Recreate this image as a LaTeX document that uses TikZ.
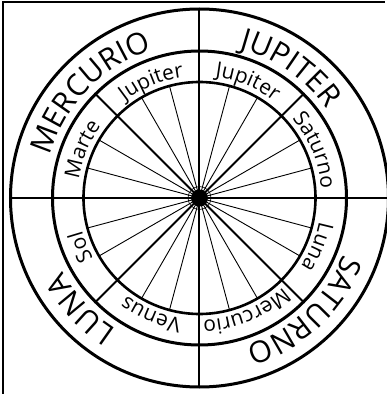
\documentclass[tikz,border=0pt]{standalone}
\usepackage{fontspec}
\setmainfont{Open Sans}
\usetikzlibrary{decorations.text}
\tikzset{
  ringline/.style={line width=3pt},
  axisline/.style={line width=2pt},
  spokeline/.style={line width=0.9pt},
}
\newcommand{\ringlabel}[4]{%
  \path[decorate, decoration={text along path, text align=center,
    text={|\fontsize{#3}{#3}\selectfont|#4}}]
    ({#1+70}:#2) arc[start angle={#1+70}, end angle={#1-70}, radius=#2];}

\begin{document}
\begin{tikzpicture}[x=1pt, y=1pt]
  \useasboundingbox (-199.5,-196) rectangle (187.5,198);
  \draw[line width=1.8pt] (185,196) -- (-196.5,196) -- (-196.5,-197);
  \coordinate (hub) at (0,0);

  \foreach \a in {15,30,60,75,105,120,150,165,195,210,240,255,285,300,330,345}
    \draw[spokeline] (hub) -- (\a:116);
  \foreach \a in {45,135,225,315}
    \draw[axisline] (hub) -- (\a:147);
  \draw[axisline] (-189,0) -- (189,0);
  \draw[axisline] (0,-189) -- (0,189);

  \draw[ringline] (hub) circle[radius=189];
  \draw[ringline] (hub) circle[radius=147];
  \draw[line width=2.6pt] (hub) circle[radius=116];
  \draw[line width=0.6pt] (hub) circle[radius=11.5];
  \fill (hub) circle[radius=8.5];

  \ringlabel{136}{155}{30}{MERCURIO}
  \ringlabel{55}{155}{30}{JUPITER}
  \ringlabel{-47}{155}{30}{SATURNO}
  \ringlabel{-137}{155}{30}{LUNA}

  \ringlabel{157.5}{122}{21}{Marte}
  \ringlabel{112.5}{122}{21}{Jupiter}
  \ringlabel{67.5}{122}{21}{Jupiter}
  \ringlabel{22.5}{122}{21}{Saturno}
  \ringlabel{-22.5}{122}{21}{Luna}
  \ringlabel{-67.5}{122}{21}{Mercurio}
  \ringlabel{-112.5}{122}{21}{Venus}
  \ringlabel{-157.5}{122}{21}{Sol}
\end{tikzpicture}
\end{document}
